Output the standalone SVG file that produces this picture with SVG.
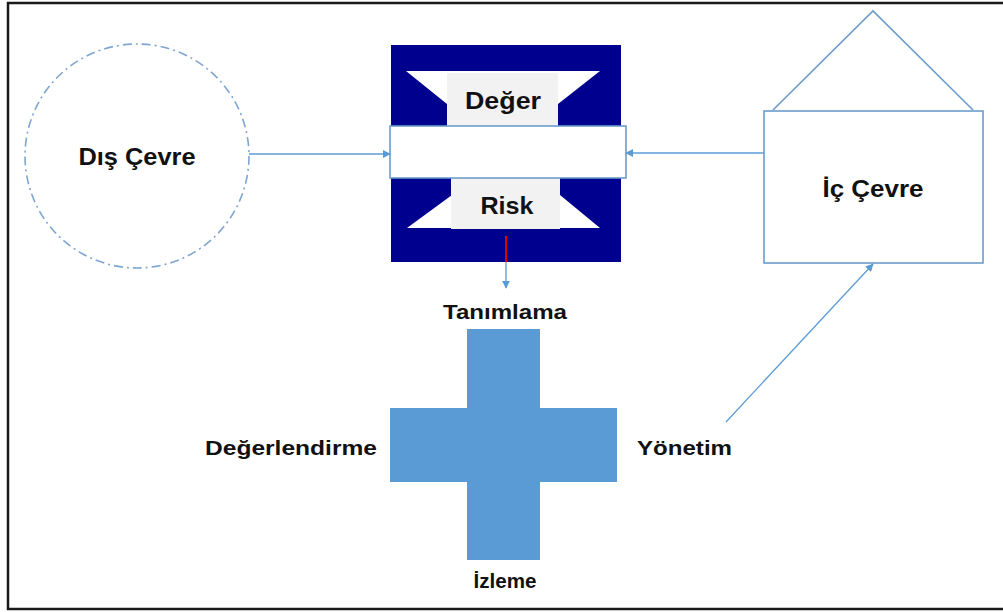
<svg xmlns="http://www.w3.org/2000/svg" width="1003" height="612" viewBox="0 0 1003 612">
<defs>
<style>
.lbl{font-family:"Liberation Sans",Arial,sans-serif;font-weight:bold;fill:#111;}
.conn{stroke:#5B9BD5;stroke-width:1.3;fill:none;}
.outline{stroke:#6C9CCB;stroke-width:1.6;fill:#fff;}
</style>
<marker id="ah" viewBox="0 0 10 10" refX="9" refY="5" markerWidth="8" markerHeight="8" markerUnits="userSpaceOnUse" orient="auto">
<path d="M0,0 L10,5 L0,10 z" fill="#5B9BD5"/>
</marker>
</defs>
<rect x="0" y="0" width="1003" height="612" fill="#fff"/>
<rect x="8" y="3" width="1010" height="606" fill="none" stroke="#1a1a1a" stroke-width="2.5"/>

<g id="dis-cevre">
<circle cx="137" cy="156" r="112" fill="#fff" stroke="#7EA6D0" stroke-width="1.6" stroke-dasharray="9,4,2,4"/>
<text class="lbl" x="137" y="165" font-size="24" text-anchor="middle" textLength="117" lengthAdjust="spacingAndGlyphs">Dış Çevre</text>
</g>

<g id="ic-cevre">
<polyline points="773,110 873,11 973,110" class="outline" fill="none"/>
<rect x="764" y="111" width="219" height="152" class="outline"/>
<text class="lbl" x="873" y="197" font-size="24" text-anchor="middle" textLength="101" lengthAdjust="spacingAndGlyphs">İç Çevre</text>
</g>

<g id="deger-risk">
<rect x="391" y="45" width="230" height="217" fill="#00008E"/>
<polygon points="406,71 600,71 558,104 447,104" fill="#fff"/>
<rect x="447" y="73" width="111" height="55" fill="#F2F2F2"/>
<polygon points="452,195 560,195 600,228 407,228" fill="#fff"/>
<rect x="451" y="178" width="109" height="51" fill="#F2F2F2"/>
<rect x="390" y="126" width="236" height="52" class="outline"/>
<text class="lbl" x="503" y="109" font-size="23" text-anchor="middle" textLength="76" lengthAdjust="spacingAndGlyphs">Değer</text>
<text class="lbl" x="507" y="214" font-size="23" text-anchor="middle" textLength="53" lengthAdjust="spacingAndGlyphs">Risk</text>
<line x1="506" y1="236" x2="506" y2="262" stroke="#E00000" stroke-width="2"/>
</g>

<g id="surec">
<path d="M467,329 H540 V408 H617 V482 H540 V560 H467 V482 H390 V408 H467 Z" fill="#5B9BD5"/>
<text class="lbl" x="505" y="319" font-size="20" text-anchor="middle" textLength="124" lengthAdjust="spacingAndGlyphs">Tanımlama</text>
<text class="lbl" x="377" y="455" font-size="20" text-anchor="end" textLength="172" lengthAdjust="spacingAndGlyphs">Değerlendirme</text>
<text class="lbl" x="637" y="455" font-size="20" textLength="95" lengthAdjust="spacingAndGlyphs">Yönetim</text>
<text class="lbl" x="505" y="588" font-size="20" text-anchor="middle" textLength="63" lengthAdjust="spacingAndGlyphs">İzleme</text>
</g>

<g id="connectors">
<line class="conn" x1="249" y1="154" x2="390" y2="154" marker-end="url(#ah)"/>
<line class="conn" x1="764" y1="153" x2="626" y2="153" marker-end="url(#ah)"/>
<line class="conn" x1="506" y1="262" x2="506" y2="288" marker-end="url(#ah)"/>
<line class="conn" x1="726" y1="422" x2="873" y2="264" marker-end="url(#ah)"/>
</g>
</svg>
